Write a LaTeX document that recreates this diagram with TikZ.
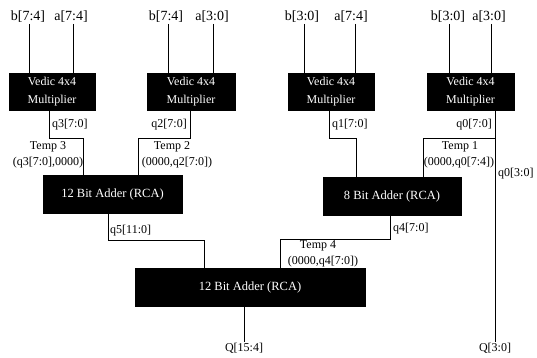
\documentclass[tikz,border=0pt]{standalone}
\usepackage{fontspec}
\setmainfont{Liberation Serif}

\begin{document}
\begin{tikzpicture}[x=1pt, y=-1pt,
    block/.style={draw, fill=black, text=white, inner sep=0pt, minimum height=37pt, align=center, font=\fontsize{12}{18}\selectfont},
    inlabel/.style={inner sep=1pt, font=\fontsize{14}{16}\selectfont},
    sig/.style={inner sep=1pt, font=\fontsize{12}{14}\selectfont},
    wire/.style={line width=0.7pt}]
    \useasboundingbox (0,0) rectangle (537,358);

    % Draw nodes
    \node[block, minimum width=86pt] (m1) at (52,91.5) {Vedic 4x4\\Multiplier};
    \node[block, minimum width=88pt] (m2) at (191,91.5) {Vedic 4x4\\Multiplier};
    \node[block, minimum width=86pt] (m3) at (331,91.5) {Vedic 4x4\\Multiplier};
    \node[block, minimum width=87pt] (m4) at (470.5,91.5) {Vedic 4x4\\Multiplier};

    \node[block, minimum width=139pt, minimum height=38pt, font=\fontsize{12.5}{14}\selectfont] (a1) at (112.5,194) {12 Bit Adder (RCA)};
    \node[block, minimum width=138pt, minimum height=38pt, font=\fontsize{12.5}{14}\selectfont] (a2) at (392,196) {8 Bit Adder (RCA)};
    \node[block, minimum width=230pt, minimum height=38pt, font=\fontsize{12.5}{14}\selectfont] (a3) at (250,287) {12 Bit Adder (RCA)};

    % Inputs
    \node[inlabel] (b1) at (28,17) {b[7:4]};
    \node[inlabel] (i1) at (71,17) {a[7:4]};
    \node[inlabel] (b2) at (166,17) {b[7:4]};
    \node[inlabel] (i2) at (212,17) {a[3:0]};
    \node[inlabel] (b3) at (302,17) {b[3:0]};
    \node[inlabel] (i3) at (351,17) {a[7:4]};
    \node[inlabel] (b4) at (448,17) {b[3:0]};
    \node[inlabel] (i4) at (489,17) {a[3:0]};

    \draw[wire] (29,0 |- b1.south) -- (29,0 |- m1.north);
    \draw[wire] (73,0 |- i1.south) -- (73,0 |- m1.north);
    \draw[wire] (168,0 |- b2.south) -- (168,0 |- m2.north);
    \draw[wire] (213,0 |- i2.south) -- (213,0 |- m2.north);
    \draw[wire] (304,0 |- b3.south) -- (304,0 |- m3.north);
    \draw[wire] (355,0 |- i3.south) -- (355,0 |- m3.north);
    \draw[wire] (449,0 |- b4.south) -- (449,0 |- m4.north);
    \draw[wire] (491,0 |- i4.south) -- (491,0 |- m4.north);

    % Outputs
    \node[sig] (Qhi) at (244,348) {Q[15:4]};
    \node[sig] (Qlo) at (495,348) {Q[3:0]};

    % Draw connections
    \draw[wire] (49,0 |- m1.south) -- (49,138) -- (83,138) -- (83,0 |- a1.north);
    \draw[wire] (190,0 |- m2.south) -- (190,138) -- (138,138) -- (138,0 |- a1.north);
    \draw[wire] (329,0 |- m3.south) -- (329,138) -- (356,138) -- (356,0 |- a2.north);
    \draw[wire] (495,0 |- m4.south) -- (495,0 |- Qlo.north);
    \draw[wire] (495,138) -- (423,138) -- (423,0 |- a2.north);
    \draw[wire] (108,0 |- a1.south) -- (108,240) -- (204,240) -- (204,0 |- a3.north);
    \draw[wire] (390,0 |- a2.south) -- (390,239) -- (280,239) -- (280,0 |- a3.north);
    \draw[wire] (244,0 |- a3.south) -- (Qhi);

    % Labels
    \node[sig, anchor=west] (q3) at (51,125) {q3[7:0]};
    \node[sig, anchor=east] (q2) at (188,125) {q2[7:0]};
    \node[sig, anchor=west] (q1) at (331,125) {q1[7:0]};
    \node[sig, anchor=east] (q0) at (493,125) {q0[7:0]};
    \node[sig, anchor=west] (q0lo) at (497,174) {q0[3:0]};
    \node[sig, anchor=west] (q5) at (109,231) {q5[11:0]};
    \node[sig, anchor=west] (q4) at (392,229) {q4[7:0]};

    \node[sig] (t3) at (48,147) {Temp 3};
    \node[sig] (t3v) at (48,163) {(q3[7:0],0000)};
    \node[sig] (t2) at (172,147) {Temp 2};
    \node[sig] (t2v) at (177,163) {(0000,q2[7:0])};
    \node[sig] (t1) at (460,147) {Temp 1};
    \node[sig] (t1v) at (459,163) {(0000,q0[7:4])};
    \node[sig] (t4) at (318,246) {Temp 4};
    \node[sig] (t4v) at (323,262) {(0000,q4[7:0])};
\end{tikzpicture}
\end{document}
